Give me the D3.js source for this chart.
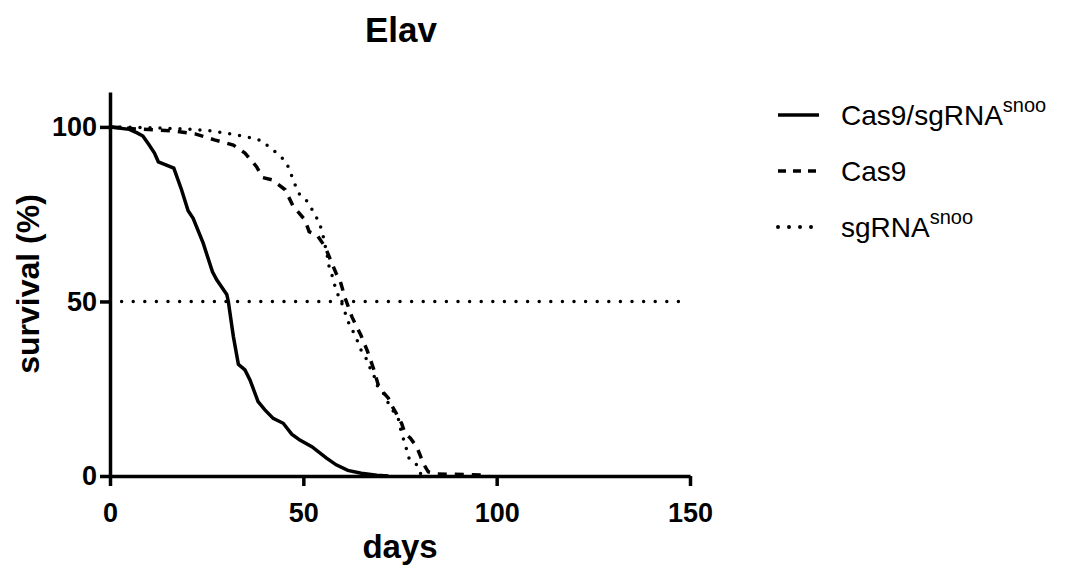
<!DOCTYPE html>
<html lang="en">
<head>
    <meta charset="UTF-8">
    <title>Elav</title>
    <script src="https://d3js.org/d3.v7.min.js"></script>
    <style>
        body { margin: 0; background: #fff; }
        svg { font-family: "Liberation Sans", Arial, sans-serif; }
        .axis path, .axis line { stroke: #000; stroke-width: 3.5px; }
        .axis text { font-size: 27px; font-weight: bold; fill: #000; }
        .curve { fill: none; stroke: #000; stroke-width: 3.5px; }
    </style>
</head>
<body>
    <svg width="1076" height="570"></svg>
    <script>
        // [day, survival %]
        const cas9SgRNA = [[0,100],[5,99.3],[7,98.3],[8.5,97.4],[10,95],[11.5,92.5],[12.5,90],[16.5,88.2],
            [18.5,82],[20.2,76],[21.5,73.8],[24.1,66.7],[26.5,58.5],[27.6,56.2],[30.2,52],[30.6,50],
            [31.9,40],[33.2,32],[34.9,30.4],[36.2,27.5],[38.3,21.3],[40,19],[42.2,16.5],[44.8,15.1],
            [47,12],[49.1,10.3],[52.2,8.4],[56,5.1],[58.5,3.2],[61.5,1.6],[65,0.8],[69,0.2],[72,0]];

        const cas9 = [[0,100],[7,99.4],[16,98.9],[22,98],[27,96.3],[31.9,94.8],[34.9,92.5],[37.9,88.6],
            [39.5,85.5],[42,84.8],[45.3,82],[47.4,77.2],[50.4,73.4],[51.5,70],[53.5,69.1],[55.6,65.7],
            [57,62],[58.5,58],[59.5,56],[60.8,51],[62.6,45.5],[64.9,40.3],[66.6,35.7],[68.2,30.6],
            [69.4,26],[70.6,24],[72,22.3],[72.8,20.3],[74,18],[75.4,15.1],[76.3,12.2],[77.7,10.8],
            [79.3,8.4],[80.2,6],[81,3.6],[82.3,1.2],[84.5,0.6],[96.5,0.3],[98,0]];

        const sgRNA = [[0,100],[10,99.8],[20,99.4],[25,99],[30.6,98.1],[33.6,97.5],[36.5,96.9],[39.4,96],
            [41.4,93.9],[43.8,92],[45.7,89.6],[46.8,86.5],[47.8,83.6],[49.1,80.5],[51.3,78.4],[52.6,75.6],
            [54.1,72.7],[55,69.4],[56.2,63],[56.7,59.7],[57.7,56.6],[58.4,53.3],[59.7,50.2],[60.8,46.8],
            [61.6,44.2],[62.9,41.3],[64.2,38.2],[65.1,35.6],[66.8,32.7],[67.4,30.4],[68.1,29.4],[69,26],
            [70.3,24.6],[72,20.8],[74.6,16.2],[75.4,12.2],[76.5,8.6],[77.1,5.4],[79.3,3.2],[80.2,0.8],[81,0]];

        const halfLine = [[0,50],[150,50]];
        const xTicks = [0, 50, 100, 150];
        const yTicks = [0, 50, 100];

        const series = [
            { name: "Cas9/sgRNA", sup: "snoo", data: cas9SgRNA, dash: null, cap: "butt" },
            { name: "Cas9", sup: "", data: cas9, dash: "9 8", cap: "butt" },
            { name: "sgRNA", sup: "snoo", data: sgRNA, dash: "0 10", cap: "round" }
        ];

        const svg = d3.select("svg");

        const x = d3.scaleLinear().domain([0, 150]).range([110, 690]);
        const y = d3.scaleLinear().domain([0, 110]).range([476, 92]);

        const line = d3.line().x(d => x(d[0])).y(d => y(d[1]));

        svg.append("path")
            .datum(halfLine)
            .attr("class", "curve")
            .attr("d", line)
            .attr("stroke-width", 4)
            .attr("stroke-dasharray", "0 11.6")
            .attr("stroke-linecap", "round");

        svg.selectAll(".series")
            .data(series)
            .enter().append("path")
            .attr("class", "curve series")
            .attr("d", d => line(d.data))
            .attr("stroke-dasharray", d => d.dash)
            .attr("stroke-linecap", d => d.cap)
            .attr("stroke-width", d => d.cap === "round" ? 4 : 3.5);

        svg.append("g")
            .attr("class", "axis")
            .attr("transform", `translate(0, ${y(0)})`)
            .call(d3.axisBottom(x).tickValues(xTicks).tickSize(10).tickSizeOuter(0).tickPadding(17));

        svg.append("g")
            .attr("class", "axis")
            .attr("transform", `translate(${x(0)}, 0)`)
            .call(d3.axisLeft(y).tickValues(yTicks).tickSize(10).tickSizeOuter(0).tickPadding(3));

        svg.append("text")
            .attr("x", 401).attr("y", 42)
            .attr("text-anchor", "middle")
            .style("font-size", "35px").style("font-weight", "bold")
            .text("Elav");

        svg.append("text")
            .attr("x", 400).attr("y", 558)
            .attr("text-anchor", "middle")
            .style("font-size", "33px").style("font-weight", "bold")
            .text("days");

        svg.append("text")
            .attr("transform", "translate(39, 284) rotate(-90)")
            .attr("text-anchor", "middle")
            .style("font-size", "32px").style("font-weight", "bold")
            .text("survival (%)");

        const legend = svg.selectAll(".legend")
            .data(series)
            .enter().append("g")
            .attr("class", "legend")
            .attr("transform", (d, i) => `translate(778, ${125 + i * 56})`);

        legend.append("line")
            .attr("x1", 0).attr("x2", 41)
            .attr("y1", -10).attr("y2", -10)
            .attr("stroke", "#000")
            .attr("stroke-width", d => d.cap === "round" ? 4 : 3.5)
            .attr("stroke-dasharray", d => d.dash === "9 8" ? "8 7" : (d.dash ? "0 11" : null))
            .attr("stroke-linecap", d => d.cap);

        const label = legend.append("text")
            .attr("x", 63)
            .style("font-size", "28px");
        label.append("tspan").text(d => d.name);
        label.append("tspan")
            .attr("dy", -13)
            .style("font-size", "20px")
            .text(d => d.sup);
    </script>
</body>
</html>
